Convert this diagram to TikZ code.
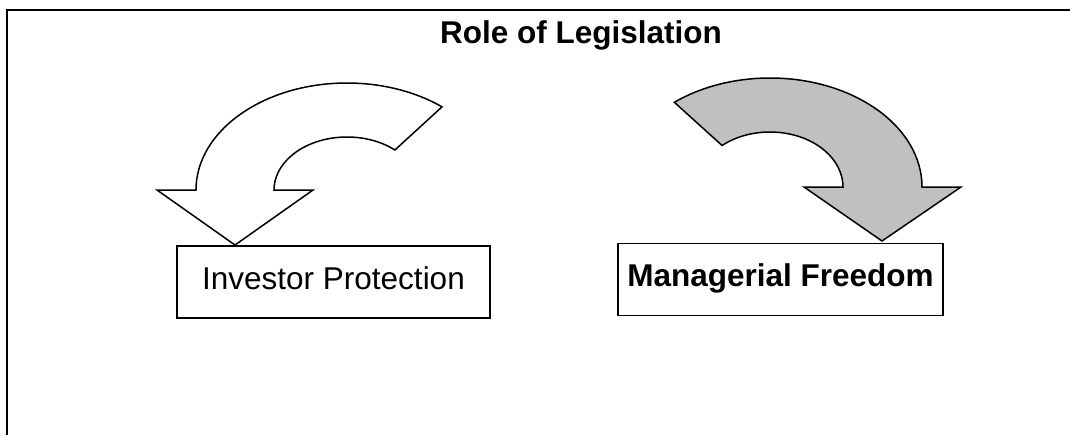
\documentclass[tikz,border=0pt]{standalone}
\usepackage{fontspec}
\setmainfont{Liberation Sans}
\usetikzlibrary{positioning}
\definecolor{shade}{RGB}{192,192,192}
\tikzset{% 
	outl/.style = {line width = 0.75pt},
	big/.style = {font = \fontsize{15.75}{19}\selectfont},
	bigbf/.style = {font = \fontsize{15.75}{19}\selectfont\bfseries},
	box/.style = {name = #1, rectangle, draw, outl, inner sep = 0pt, minimum height = 36pt, text height = 0.72em, text depth = 0pt},
	arw/.style = {draw, outl, line join = miter, fill = #1}
}
\begin{document}
\begin{tikzpicture}[x=0.5pt, y=-0.5pt]
			\useasboundingbox (0,0) rectangle (1070,435);
			\draw [line width = 1pt] (7,435) |- (1070,10);
			\node [name = title, bigbf, anchor = base] at (581,43) {Role of Legislation};
			\node [box = {inv}, big, minimum width = 156.5pt] at (333.5,282) {Investor Protection};
			\node [box = {man}, bigbf, minimum width = 162.5pt] at (780.5,279.5) {Managerial Freedom};
			% open arrow down onto inv
			\path [arw = white] (157,190) -- (196,190)
				arc [start angle = 180, end angle = 309, x radius = 151, y radius = 107]
				-- (394.9,150) arc [start angle = 311, end angle = 180, x radius = 73, y radius = 53]
				-- (313,190) -- (235,245) -- cycle;
			% shaded arrow down onto man
			\path [arw = shade] (961,187) -- (922,187)
				arc [start angle = 0, end angle = -129, x radius = 152, y radius = 109]
				-- (722.1,145.5) arc [start angle = 229, end angle = 360, x radius = 73, y radius = 55]
				-- (804,187) -- (882,241) -- cycle;
			\end{tikzpicture}
\end{document}
